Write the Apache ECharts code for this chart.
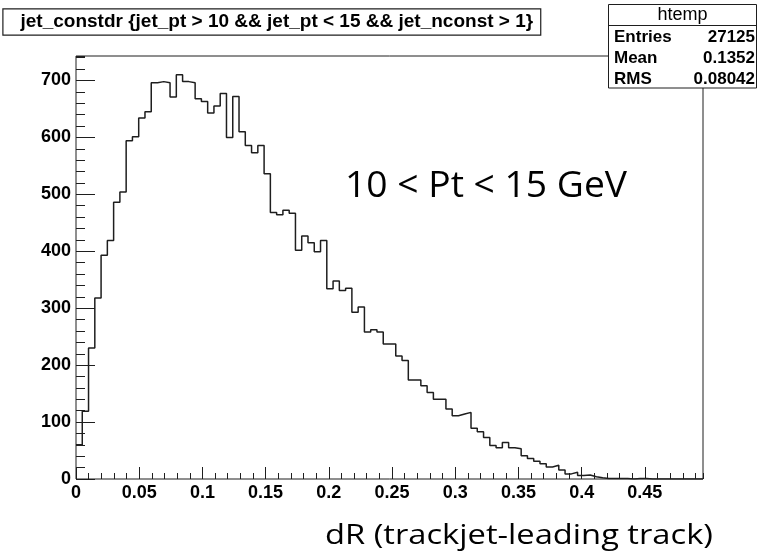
<!DOCTYPE html>
<html>
<head>
<meta charset="utf-8">
<script src="https://cdn.jsdelivr.net/npm/echarts@6/dist/echarts.min.js"></script>
<style>
  html, body { margin: 0; padding: 0; background: #ffffff; }
  #chart { width: 758px; height: 552px; }
</style>
</head>
<body>
<div id="chart"></div>
<script>
// jet_constdr histogram: 100 bins between 0 and xMax
const xMin = 0;
const xMax = 0.496;
const binCounts = [
  60, 119, 230, 318, 393, 419, 486, 504, 594, 601,
  634, 645, 696, 698, 696, 671, 710, 698, 696, 668,
  663, 643, 655, 677, 600, 672, 610, 586, 573, 586,
  536, 468, 464, 472, 467, 402, 427, 415, 399, 419,
  334, 348, 331, 335, 293, 302, 258, 262, 258, 237,
  237, 216, 208, 174, 174, 164, 152, 140, 140, 123,
  111, 114, 117, 89, 83, 73, 59, 55, 64, 55,
  53, 41, 36, 31, 27, 21, 24, 16, 9, 12,
  6, 7, 4, 2, 1, 1, 1, 1, 0, 1,
  1, 0, 0, 0, 0, 0, 0, 0, 0, 0
];

// axis tick values
const xMajorTicks = [0, 0.05, 0.1, 0.15, 0.2, 0.25, 0.3, 0.35, 0.4, 0.45];
const xMinorStep = 0.01;
const yMajorTicks = [0, 100, 200, 300, 400, 500, 600, 700];
const yMinorStep = 20;
const yMax = 743;

// pave texts
const titleText = 'jet_constdr {jet_pt > 10 && jet_pt < 15 && jet_nconst > 1}';
const statsName = 'htemp';
const statsLabels = ['Entries', 'Mean', 'RMS'];
const statsValues = ['27125', '0.1352', '0.08042'];
const ptRangeText = '10 < Pt < 15 GeV';
const xTitleText = 'dR (trackjet-leading track)';

const binWidth = (xMax - xMin) / binCounts.length;
const stepPoints = binCounts.map((c, i) => [xMin + i * binWidth, c]);
stepPoints.push([xMax, binCounts[binCounts.length - 1]]);

const ink = '#1e1e1e';
const paveFont = '"Liberation Sans", Arial, sans-serif';

// horizontal stretch so a caption spans a given width
const measureCtx = document.createElement('canvas').getContext('2d');
function stretchFor(text, font, width) {
  measureCtx.font = font;
  return width / measureCtx.measureText(text).width;
}

const ptFont = '36px "Open Sans"';
const xTitleFont = '28px "Open Sans"';

function majorAxis(dim, ticks, max, len) {
  return {
    type: 'value',
    min: ticks[0],
    max: max,
    interval: ticks[1] - ticks[0],
    position: dim === 'x' ? 'bottom' : 'left',
    axisLine: { show: false },
    splitLine: { show: false },
    axisTick: { show: true, inside: true, length: len, lineStyle: { color: ink, width: 1 } },
    axisLabel: {
      show: true,
      showMaxLabel: false,
      color: '#000',
      fontFamily: 'Liberation Sans',
      fontWeight: 'bold',
      fontSize: 18,
      margin: dim === 'x' ? 5 : 5
    }
  };
}

function minorAxis(dim, min, step, max, len) {
  return {
    type: 'value',
    min: min,
    max: max,
    interval: step,
    position: dim === 'x' ? 'bottom' : 'left',
    axisLine: { show: false },
    splitLine: { show: false },
    axisLabel: { show: false },
    axisTick: { show: true, inside: true, length: len, lineStyle: { color: ink, width: 1 } }
  };
}

const chart = echarts.init(document.getElementById('chart'), null, { renderer: 'canvas' });

const statsLeft = 608.5, statsTop = 4.5, statsW = 148, statsH = 83.5;
const rowY = [37.5, 58, 79];

chart.setOption({
  animation: false,
  backgroundColor: '#ffffff',
  grid: {
    left: 76, top: 56, right: 55, bottom: 73,
    show: true, borderColor: ink, borderWidth: 1, backgroundColor: 'transparent'
  },
  xAxis: [
    majorAxis('x', xMajorTicks, xMax, 12),
    minorAxis('x', xMin, xMinorStep, xMax, 6)
  ],
  yAxis: [
    majorAxis('y', yMajorTicks, yMax, 19),
    minorAxis('y', yMajorTicks[0], yMinorStep, yMax, 9)
  ],
  series: [{
    type: 'line',
    xAxisIndex: 0,
    yAxisIndex: 0,
    step: 'end',
    data: stepPoints,
    showSymbol: false,
    symbol: 'none',
    clip: true,
    lineStyle: { color: ink, width: 1.5 }
  }],
  graphic: [
    {
      type: 'text',
      x: 3.5, y: 9.5,
      z: 100,
      style: {
        text: titleText,
        font: 'bold 19px ' + paveFont,
        fill: '#000',
        backgroundColor: '#fff',
        borderColor: ink,
        borderWidth: 1.2,
        padding: [3, 7, 3, 17]
      }
    },
    {
      type: 'group',
      z: 100,
      children: [
        {
          type: 'rect',
          shape: { x: statsLeft, y: statsTop, width: statsW, height: statsH },
          style: { fill: '#fff', stroke: ink, lineWidth: 1 }
        },
        {
          type: 'line',
          shape: { x1: statsLeft, y1: 25.5, x2: statsLeft + statsW, y2: 25.5 },
          style: { stroke: ink, lineWidth: 1 }
        },
        {
          type: 'text',
          x: statsLeft + statsW / 2, y: 15,
          style: {
            text: statsName, font: '18px ' + paveFont, fill: '#000',
            align: 'center', verticalAlign: 'middle'
          }
        }
      ].concat(statsLabels.map((lab, i) => ({
        type: 'text',
        x: 614, y: rowY[i],
        style: {
          text: lab, font: 'bold 17px ' + paveFont, fill: '#000',
          align: 'left', verticalAlign: 'middle'
        }
      }))).concat(statsValues.map((val, i) => ({
        type: 'text',
        x: 755, y: rowY[i],
        style: {
          text: val, font: 'bold 17px ' + paveFont, fill: '#000',
          align: 'right', verticalAlign: 'middle'
        }
      })))
    },
    {
      type: 'text',
      x: 345, y: 187,
      scaleX: stretchFor(ptRangeText, ptFont, 282),
      z: 100,
      style: {
        text: ptRangeText, font: ptFont, fill: '#000',
        align: 'left', verticalAlign: 'middle'
      }
    },
    {
      type: 'text',
      x: 325, y: 536,
      scaleX: stretchFor(xTitleText, xTitleFont, 388),
      z: 100,
      style: {
        text: xTitleText, font: xTitleFont, fill: '#000',
        align: 'left', verticalAlign: 'middle'
      }
    }
  ]
});
</script>
</body>
</html>
